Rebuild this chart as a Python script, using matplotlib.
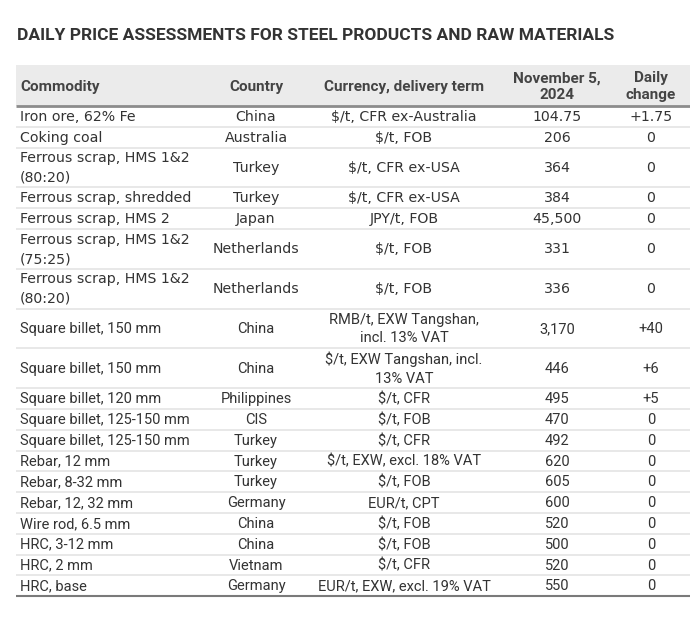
import matplotlib
matplotlib.use("Agg")
import matplotlib.pyplot as plt
from matplotlib.patches import Rectangle

# table data
commodities = ["Iron ore, 62% Fe", "Coking coal", "Ferrous scrap, HMS 1&2\n(80:20)",
               "Ferrous scrap, shredded", "Ferrous scrap, HMS 2",
               "Ferrous scrap, HMS 1&2\n(75:25)", "Ferrous scrap, HMS 1&2\n(80:20)",
               "Square billet, 150 mm", "Square billet, 150 mm", "Square billet, 120 mm",
               "Square billet, 125-150 mm", "Square billet, 125-150 mm", "Rebar, 12 mm",
               "Rebar, 8-32 mm", "Rebar, 12, 32 mm", "Wire rod, 6.5 mm", "HRC, 3-12 mm",
               "HRC, 2 mm", "HRC, base"]
countries = ["China", "Australia", "Turkey", "Turkey", "Japan", "Netherlands", "Netherlands",
             "China", "China", "Philippines", "CIS", "Turkey", "Turkey", "Turkey", "Germany",
             "China", "China", "Vietnam", "Germany"]
terms = ["$/t, CFR ex-Australia", "$/t, FOB", "$/t, CFR ex-USA", "$/t, CFR ex-USA",
         "JPY/t, FOB", "$/t, FOB", "$/t, FOB", "RMB/t, EXW Tangshan,\nincl. 13% VAT",
         "$/t, EXW Tangshan, incl.\n13% VAT", "$/t, CFR", "$/t, FOB", "$/t, CFR",
         "$/t, EXW, excl. 18% VAT", "$/t, FOB", "EUR/t, CPT", "$/t, FOB", "$/t, FOB",
         "$/t, CFR", "EUR/t, EXW, excl. 19% VAT"]
prices = ["104.75", "206", "364", "384", "45,500", "331", "336", "3,170", "446", "495",
          "470", "492", "620", "605", "600", "520", "500", "520", "550"]
changes = ["+1.75", "0", "0", "0", "0", "0", "0", "+40", "+6", "+5", "0", "0", "0", "0",
           "0", "0", "0", "0", "0"]
headers = ["Commodity", "Country", "Currency, delivery term", "November 5,\n2024", "Daily\nchange"]
title = "DAILY PRICE ASSESSMENTS FOR STEEL PRODUCTS AND RAW MATERIALS"

W, H = 690, 619
fig = plt.figure(figsize=(W / 100, H / 100), dpi=100)
ax = fig.add_axes([0, 0, 1, 1])
ax.set_xlim(0, W)
ax.set_ylim(H, 0)
ax.axis("off")

narrow = ["Roboto", "DejaVu Sans"]
wide = ["DejaVu Sans"]
txt = "#333333"

ax.text(17, 35, title, family=narrow, fontweight="bold", fontsize=12.5,
        color="#333333", va="center", ha="left")

# header
left, right = 16, 690
head_top, head_bot = 65, 106
ax.add_patch(Rectangle((left, head_top), right - left, head_bot - head_top,
                       facecolor="#ebebeb", edgecolor="none"))
col_x = [20, 256, 404, 557, 651]
hy = (head_top + head_bot) / 2 + 1
for i, h in enumerate(headers):
    ax.text(col_x[i], hy, h, family=narrow, fontweight="bold", fontsize=11,
            color="#444444", ha="left" if i == 0 else "center", va="center",
            multialignment="center", linespacing=1.2)

# rows
single, double = 20.8, 39.8
y = head_bot
for i in range(len(commodities)):
    n = max(commodities[i].count("\n"), terms[i].count("\n")) + 1
    rh = single if n == 1 else double
    cy = y + rh / 2 + 0.5
    fam = wide if i < 7 else narrow
    fs = 10.2 if i < 7 else 10.5
    ls = 1.5 if i < 7 else 1.4
    ax.text(col_x[0], cy, commodities[i], family=fam, fontsize=fs, color=txt,
            ha="left", va="center", linespacing=ls)
    ax.text(col_x[1], cy, countries[i], family=fam, fontsize=fs, color=txt,
            ha="center", va="center")
    ax.text(col_x[2], cy, terms[i], family=fam, fontsize=fs, color=txt,
            ha="center", va="center", multialignment="center", linespacing=ls)
    ax.text(col_x[3], cy, prices[i], family=fam, fontsize=fs, color=txt,
            ha="center", va="center")
    ax.text(col_x[4], cy, changes[i], family=fam, fontsize=fs, color=txt,
            ha="center", va="center")
    y += rh
    if i < len(commodities) - 1:
        ax.plot([left, right], [y, y], color="#e4e4e4", lw=1.2, solid_capstyle="butt")

ax.plot([left, right], [head_bot, head_bot], color="#8c8c8c", lw=2, solid_capstyle="butt")
ax.plot([left, right], [y, y], color="#7a7a7a", lw=1.5, solid_capstyle="butt")

fig.savefig("out.png", dpi=100, facecolor="white")
